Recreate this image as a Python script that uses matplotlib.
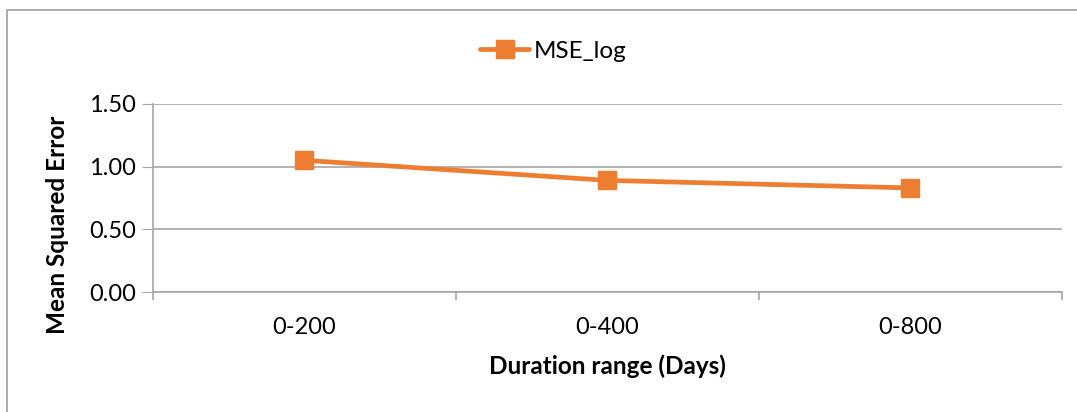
import matplotlib.pyplot as plt
from matplotlib.patches import Rectangle

plt.rcParams['font.family'] = ['Lato', 'DejaVu Sans']

categories = ['0-200', '0-400', '0-800']
mse_log = [1.05, 0.89, 0.83]

fig = plt.figure(figsize=(10.77, 4.12), dpi=100)
ax = fig.add_axes([0.142, 0.291, 0.844, 0.457])

x = list(range(len(categories)))
ax.plot(x, mse_log, color='#ED7D31', lw=3.4, marker='s', ms=12.5,
        solid_capstyle='round', label='MSE_log', zorder=3)

ax.set_xlim(-0.5, len(categories) - 0.5)
ax.set_ylim(0, 1.5)
ax.set_yticks([0, 0.5, 1.0, 1.5])
ax.set_yticklabels([f'{v:.2f}' for v in [0, 0.5, 1.0, 1.5]])
ax.set_xticks(x)
ax.set_xticklabels(categories)
ax.set_xticks([i - 0.5 for i in range(len(categories) + 1)], minor=True)

ax.grid(axis='y', color='#a6a6a6', lw=1.2)
ax.set_axisbelow(True)
for s in ['top', 'right']:
    ax.spines[s].set_visible(False)
ax.spines['left'].set_color('#a6a6a6')
ax.spines['bottom'].set_color('#a6a6a6')
ax.spines['left'].set_linewidth(1.2)
ax.spines['bottom'].set_linewidth(1.2)

ax.tick_params(axis='y', length=8, color='#a6a6a6', labelsize=17, pad=4)
ax.tick_params(axis='x', which='major', length=0, labelsize=17, pad=18)
ax.tick_params(axis='x', which='minor', length=6, color='#a6a6a6', width=1.2)

ax.set_xlabel('Duration range (Days)', fontsize=17.5, fontweight='bold', labelpad=12)
ax.set_ylabel('Mean Squared Error', fontsize=17.5, fontweight='bold')
ax.yaxis.set_label_coords(-0.092, 0.36)

ax.legend(loc='center', bbox_to_anchor=(0.514, 0.876), bbox_transform=fig.transFigure,
          frameon=False, fontsize=17.5, handlelength=2.0, handletextpad=0.2)

fig.patches.append(Rectangle((7 / 1077, -0.01), 1.0, 1 - 10 / 412 + 0.01,
                             transform=fig.transFigure, fill=False,
                             edgecolor='#a0a0a0', lw=1.2))

fig.savefig('out.png', dpi=100)
